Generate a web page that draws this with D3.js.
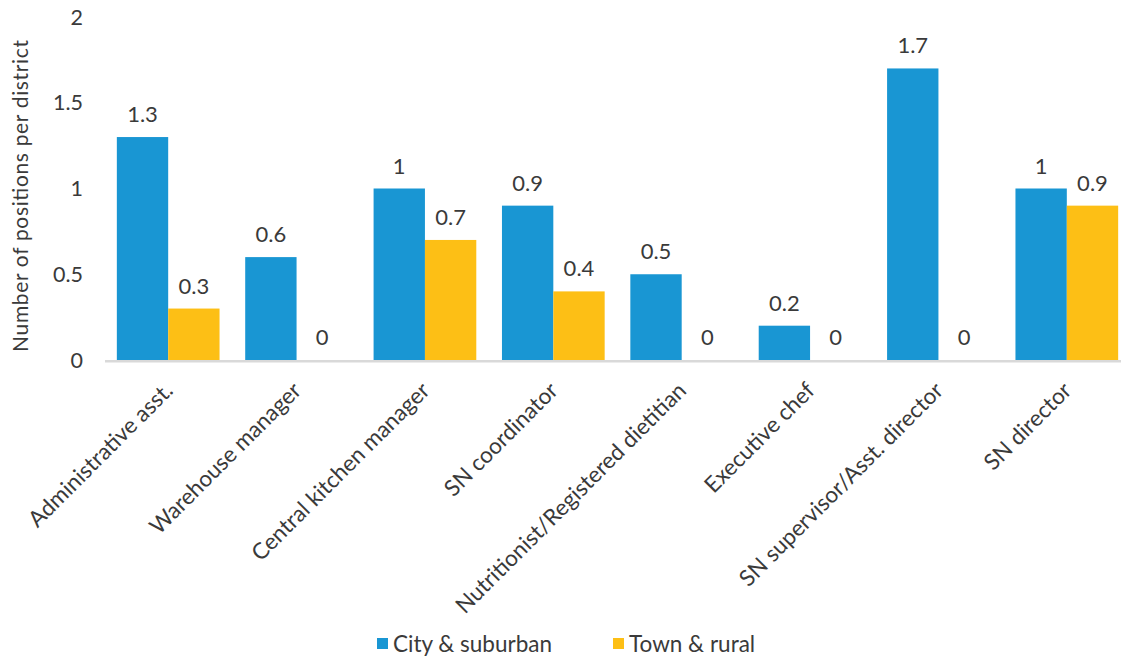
<!DOCTYPE html>
<html>
<head>
<meta charset="utf-8">
<script src="https://cdn.jsdelivr.net/npm/d3@7"></script>
<style>
  html, body { margin: 0; padding: 0; background: #fff; }
  svg { display: block; font-family: Lato, "Open Sans", sans-serif; }
</style>
</head>
<body>
<svg id="chart" width="1121" height="657"></svg>
<script>
// Staff positions per district, by locale
const categories = [
  "Administrative asst.",
  "Warehouse manager",
  "Central kitchen manager",
  "SN coordinator",
  "Nutritionist/Registered dietitian",
  "Executive chef",
  "SN supervisor/Asst. director",
  "SN director"
];
const citySuburban = [1.3, 0.6, 1, 0.9, 0.5, 0.2, 1.7, 1];
const townRural = [0.3, 0, 0.7, 0.4, 0, 0, 0, 0.9];
const seriesNames = ["City & suburban", "Town & rural"];
const yTicks = [0, 0.5, 1, 1.5, 2];
const yTitle = "Number of positions per district";

const colors = ["#1996D3", "#FDBF15"];
const textColor = "#3A3A3A";

const svg = d3.select("#chart");
const plotLeft = 104, plotRight = 1131, plotTop = 17, plotBottom = 360;

const x0 = d3.scaleBand().domain(categories).range([plotLeft, plotRight]).paddingInner(0.2).paddingOuter(0.1);
const x1 = d3.scaleBand().domain(seriesNames).range([0, x0.bandwidth()]);
const y = d3.scaleLinear().domain([0, 2]).range([plotBottom, plotTop]);

// y tick labels (no axis line, no gridlines)
svg.append("g").selectAll("text").data(yTicks).join("text")
  .attr("x", 83).attr("y", d => y(d)).attr("dy", "0.36em")
  .attr("text-anchor", "end").attr("font-size", 21.5).attr("fill", textColor)
  .text(d => d);

// y axis title
svg.append("text")
  .attr("transform", `translate(28,196) rotate(-90)`)
  .attr("text-anchor", "middle").attr("font-size", 21).attr("fill", textColor)
  .attr("textLength", 312).attr("lengthAdjust", "spacing")
  .text(yTitle);

const rows = categories.map((c, i) => ({ cat: c, vals: [citySuburban[i], townRural[i]] }));

const groups = svg.append("g").selectAll("g").data(rows).join("g")
  .attr("transform", d => `translate(${x0(d.cat)},0)`);

groups.selectAll("rect").data(d => d.vals.map((v, k) => ({ v, k }))).join("rect")
  .attr("x", d => x1(seriesNames[d.k]))
  .attr("y", d => y(d.v))
  .attr("width", x1.bandwidth())
  .attr("height", d => y(0) - y(d.v))
  .attr("fill", d => colors[d.k]);

// value labels
groups.selectAll("text").data(d => d.vals.map((v, k) => ({ v, k }))).join("text")
  .attr("x", d => x1(seriesNames[d.k]) + x1.bandwidth() / 2)
  .attr("y", d => y(d.v) - 15)
  .attr("text-anchor", "middle").attr("font-size", 22).attr("fill", textColor)
  .text(d => d.v);

// baseline
svg.append("line")
  .attr("x1", plotLeft + 1).attr("x2", 1121).attr("y1", y(0) + 1.2).attr("y2", y(0) + 1.2)
  .attr("stroke", "#D9D9D9").attr("stroke-width", 2.5);

// category labels
const xAxis = d3.axisBottom(x0).tickSize(0).tickPadding(0);
const gx = svg.append("g").attr("transform", `translate(0,${plotBottom})`).call(xAxis);
gx.select(".domain").remove();
gx.selectAll(".tick text")
  .attr("font-family", "Lato, sans-serif")
  .attr("font-size", 22.5).attr("fill", textColor)
  .attr("text-anchor", "end")
  .attr("dy", null).attr("y", 0)
  .attr("transform", "translate(6,32) rotate(-45)");

// legend
const legend = svg.append("g");
const legendItems = [{ x: 377, name: seriesNames[0], c: colors[0] }, { x: 613, name: seriesNames[1], c: colors[1] }];
legendItems.forEach(it => {
  legend.append("rect").attr("x", it.x).attr("y", 638).attr("width", 11).attr("height", 11).attr("fill", it.c);
  legend.append("text").attr("x", it.x + 16).attr("y", 652)
    .attr("font-size", 22.5).attr("fill", textColor).text(it.name);
});
</script>
</body>
</html>
